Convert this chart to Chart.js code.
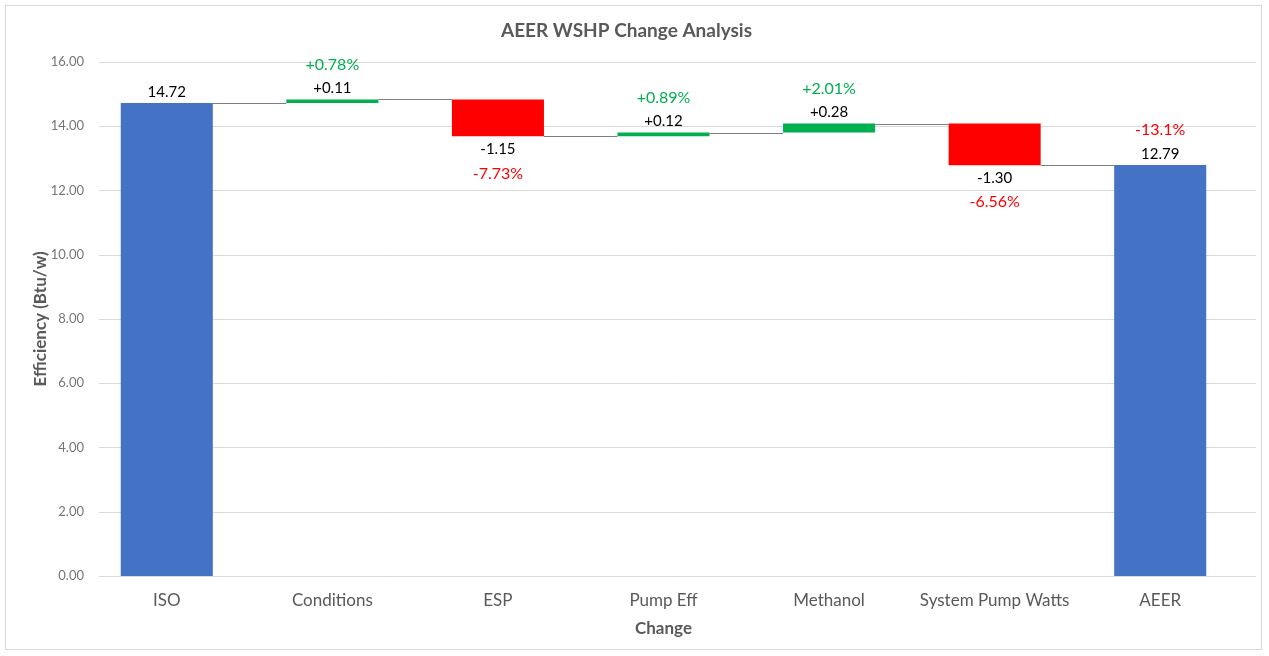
<!DOCTYPE html>
<html>
<head>
<meta charset="utf-8">
<script src="https://cdn.jsdelivr.net/npm/chart.js"></script>
<style>
  html, body { margin: 0; padding: 0; background: #fff; }
  #frame {
    position: absolute; left: 5px; top: 5px;
    width: 1255px; height: 643px;
    border: 1px solid #d9d9d9;
  }
  #wrap { position: absolute; left: 0; top: 0; width: 1269px; height: 656px; }
</style>
</head>
<body>
<div id="frame"></div>
<div id="wrap"><canvas id="chart"></canvas></div>
<script>
// Waterfall data
const categories = ['ISO', 'Conditions', 'ESP', 'Pump Eff', 'Methanol', 'System Pump Watts', 'AEER'];
const startValue = 14.72;
const changes = [0.11, -1.15, 0.12, 0.28, -1.30];
const endValue = 12.79;
const pctLabels = ['', '+0.78%', '-7.73%', '+0.89%', '+2.01%', '-6.56%', '-13.1%'];
const yTicks = [0, 2, 4, 6, 8, 10, 12, 14, 16];

const BLUE = '#4472C4';
const GREEN = '#00B050';
const RED = '#FF0000';

// build floating bars from the running total
const ranges = [[0, startValue]];
const kinds = ['total'];
let running = startValue;
changes.forEach(c => {
    const next = running + c;
    ranges.push([running, next]);
    kinds.push(c >= 0 ? 'up' : 'down');
    running = next;
});
ranges.push([0, endValue]);
kinds.push('total');

const valueTexts = ranges.map((r, i) => {
    if (kinds[i] === 'total') return r[1].toFixed(2);
    const d = changes[i - 1];
    return (d >= 0 ? '+' : '') + d.toFixed(2);
});

const colors = kinds.map(k => k === 'total' ? BLUE : (k === 'up' ? GREEN : RED));

const FONT = 'Lato, "Open Sans", sans-serif';

// horizontal gridlines, a bit wider than the category band (like the Excel plot area)
const gridPlugin = {
    id: 'hgrid',
    beforeDatasetsDraw(chart) {
        const y = chart.scales.y;
        const area = chart.chartArea;
        const ctx = chart.ctx;
        ctx.save();
        ctx.strokeStyle = '#d9d9d9';
        ctx.lineWidth = 1;
        yTicks.forEach(v => {
            const py = Math.round(y.getPixelForValue(v)) + 0.5;
            ctx.beginPath();
            ctx.moveTo(area.left + 15, py);
            ctx.lineTo(area.right + 13, py);
            ctx.stroke();
        });
        ctx.restore();
    }
};

// connectors between bars at the running level
const connectorPlugin = {
    id: 'connectors',
    afterDatasetsDraw(chart) {
        const meta = chart.getDatasetMeta(0);
        const y = chart.scales.y;
        const ctx = chart.ctx;
        ctx.save();
        ctx.strokeStyle = '#7f7f7f';
        ctx.lineWidth = 1;
        for (let i = 0; i < ranges.length - 1; i++) {
            const a = meta.data[i], b = meta.data[i + 1];
            const level = ranges[i][1];
            const py = Math.round(y.getPixelForValue(level)) + 0.5;
            ctx.beginPath();
            ctx.moveTo(a.x + a.width / 2, py);
            ctx.lineTo(b.x - b.width / 2, py);
            ctx.stroke();
        }
        ctx.restore();
    }
};

// value and percent labels
const labelPlugin = {
    id: 'waterLabels',
    afterDatasetsDraw(chart) {
        const meta = chart.getDatasetMeta(0);
        const y = chart.scales.y;
        const ctx = chart.ctx;
        ctx.save();
        ctx.textAlign = 'center';
        ctx.textBaseline = 'middle';
        meta.data.forEach((el, i) => {
            const top = y.getPixelForValue(Math.max(ranges[i][0], ranges[i][1]));
            const bottom = y.getPixelForValue(Math.min(ranges[i][0], ranges[i][1]));
            const pctColor = pctLabels[i].startsWith('-') ? RED : GREEN;
            const vy = kinds[i] === 'down' ? bottom + 13 : top - 11;
            const py = kinds[i] === 'down' ? bottom + 37 : top - 35;
            ctx.font = '15px ' + FONT;
            ctx.fillStyle = '#000';
            ctx.fillText(valueTexts[i], el.x, vy);
            if (pctLabels[i]) {
                ctx.font = '16px ' + FONT;
                ctx.fillStyle = pctColor;
                ctx.fillText(pctLabels[i], el.x, py);
            }
        });
        ctx.restore();
    }
};

new Chart(document.getElementById('chart'), {
    type: 'bar',
    data: {
        labels: categories,
        datasets: [{
            data: ranges,
            backgroundColor: colors,
            borderWidth: 0,
            categoryPercentage: 1,
            barPercentage: 0.556
        }]
    },
    options: {
        responsive: true,
        maintainAspectRatio: false,
        animation: false,
        layout: { padding: { left: 10, right: 26, top: 0, bottom: 17 } },
        plugins: {
            legend: { display: false },
            tooltip: { enabled: false },
            title: {
                display: true,
                text: 'AEER WSHP Change Analysis',
                color: '#595959',
                font: { family: FONT, size: 19, weight: 'bold' },
                padding: { top: 19, bottom: 20 }
            }
        },
        scales: {
            x: {
                afterFit: s => { s.height = 63; },
                grid: { display: false, drawTicks: false },
                border: { display: false },
                ticks: {
                    color: '#595959',
                    font: { family: FONT, size: 17 },
                    padding: 14
                },
                title: {
                    display: true,
                    text: 'Change',
                    color: '#595959',
                    font: { family: FONT, size: 17, weight: 'bold' },
                    padding: { top: 0, bottom: 0 }
                }
            },
            y: {
                min: 0,
                max: 16,
                afterBuildTicks: s => { s.ticks = yTicks.map(v => ({ value: v })); },
                afterFit: s => { s.width = 74; },
                grid: { display: false, drawTicks: false },
                border: { display: false },
                ticks: {
                    color: '#767676',
                    font: { family: FONT, size: 13 },
                    padding: 0,
                    callback: v => Number(v).toFixed(2)
                },
                title: {
                    display: true,
                    text: 'Efficiency (Btu/w)',
                    color: '#595959',
                    font: { family: FONT, size: 17, weight: 'bold' },
                    padding: { top: 20, bottom: 0 }
                }
            }
        }
    },
    plugins: [gridPlugin, connectorPlugin, labelPlugin]
});
</script>
</body>
</html>
